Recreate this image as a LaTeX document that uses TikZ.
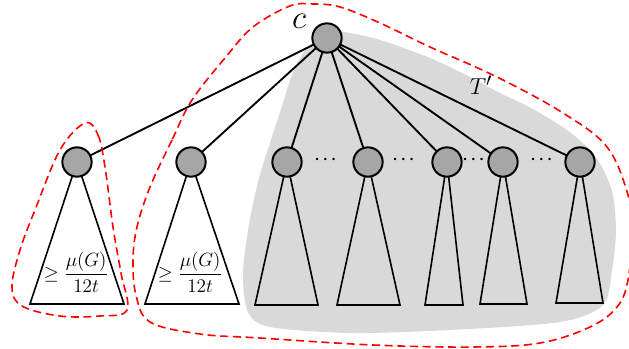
\documentclass[tikz,border=0pt]{standalone}
\usepackage{amsmath}
\begin{document}
\begin{tikzpicture}[x=0.75pt,y=-0.75pt,
  vert/.style={circle,draw=black,line width=1.5pt,fill=nodegray,minimum size=22pt,inner sep=0pt},
  edge/.style={line width=1.4pt},
  tri/.style={draw=black,line width=1.2pt,line join=miter},
  dotsnode/.style={inner sep=0pt,font=\large\boldmath},
  redloop/.style={draw=red,line width=1.2pt,dash pattern=on 6pt off 3.5pt}]
\definecolor{nodegray}{HTML}{A6A6A6}
\definecolor{regiongray}{HTML}{D9D9D9}
\useasboundingbox (0,0) rectangle (629,349);
% gray region T'
\fill[regiongray] plot[smooth cycle,tension=0.5] coordinates {(320,38) (342,32) (380,40) (430,58) (470,77) (500,93) (533,109) (567,130) (590,150) (604,171) (613,195) (616,232) (612,270) (603,305) (560,322) (450,330) (350,333) (270,327) (248,312) (243,275) (248,230) (258,182) (270,143) (283,103) (292,75) (305,50)};
% coordinates
\coordinate (pr) at (327,38);
\coordinate (pa) at (77,162);
\coordinate (pb) at (191,162);
\coordinate (p1) at (287,162);
\coordinate (p2) at (368,162);
\coordinate (p3) at (447,162);
\coordinate (p4) at (503,162);
\coordinate (p5) at (580,162);
% edges
\foreach \k in {pa,pb,p1,p2,p3,p4,p5} \draw[edge] (pr) -- (\k);
% triangles
\coordinate (ba1) at (30,304); \coordinate (ba2) at (124,304);
\coordinate (bb1) at (145,304); \coordinate (bb2) at (239,304);
\coordinate (b11) at (255,305); \coordinate (b12) at (318,305);
\coordinate (b21) at (337,305); \coordinate (b22) at (400,305);
\coordinate (b31) at (425,305); \coordinate (b32) at (463,305);
\coordinate (b41) at (480,304); \coordinate (b42) at (527,304);
\coordinate (b51) at (556,303); \coordinate (b52) at (603,303);
\draw[tri,fill=white] (pa) -- (ba1) -- (ba2) -- cycle;
\draw[tri,fill=white] (pb) -- (bb1) -- (bb2) -- cycle;
\draw[tri] (p1) -- (b11) -- (b12) -- cycle;
\draw[tri] (p2) -- (b21) -- (b22) -- cycle;
\draw[tri] (p3) -- (b31) -- (b32) -- cycle;
\draw[tri] (p4) -- (b41) -- (b42) -- cycle;
\draw[tri] (p5) -- (b51) -- (b52) -- cycle;
% nodes
\node[vert] (r) at (pr) {};
\node[vert] (a) at (pa) {};
\node[vert] (b) at (pb) {};
\node[vert] (n1) at (p1) {};
\node[vert] (n2) at (p2) {};
\node[vert] (n3) at (p3) {};
\node[vert] (n4) at (p4) {};
\node[vert] (n5) at (p5) {};
% dots
\node[dotsnode] (d1) at (327,160) {$\cdots$};
\node[dotsnode] (d2) at (405,160) {$\cdots$};
\node[dotsnode] (d3) at (475,160) {$\cdots$};
\node[dotsnode] (d4) at (543,160) {$\cdots$};
% labels
\node (lc) at (299,21) {\fontsize{23}{25}\selectfont $c$};
\node (lt) at (481,85) {\fontsize{19}{21}\selectfont $T'$};
\node (fa) at (76,272) {\fontsize{14.5}{16}\selectfont $\geq\dfrac{\mu(G)}{12t}$};
\node (fb) at (190,272) {\fontsize{14.5}{16}\selectfont $\geq\dfrac{\mu(G)}{12t}$};
% red dashed loops
\draw[redloop] plot[smooth cycle,tension=0.6] coordinates {(85,123) (98,135) (105,167) (113,227) (121,273) (127,310) (100,316) (60,316) (22,306) (12,287) (20,250) (35,210) (60,150)};
\draw[redloop] plot[smooth cycle,tension=0.6] coordinates {(192,100) (172,140) (150,187) (137,227) (133,260) (136,295) (150,322) (200,334) (260,338) (373,345) (473,347) (540,343) (590,327) (617,307) (628,280) (632,230) (628,195) (607,147) (563,113) (497,77) (430,47) (380,23) (340,7) (313,4) (290,6) (253,27) (225,58)};
\end{tikzpicture}
\end{document}
